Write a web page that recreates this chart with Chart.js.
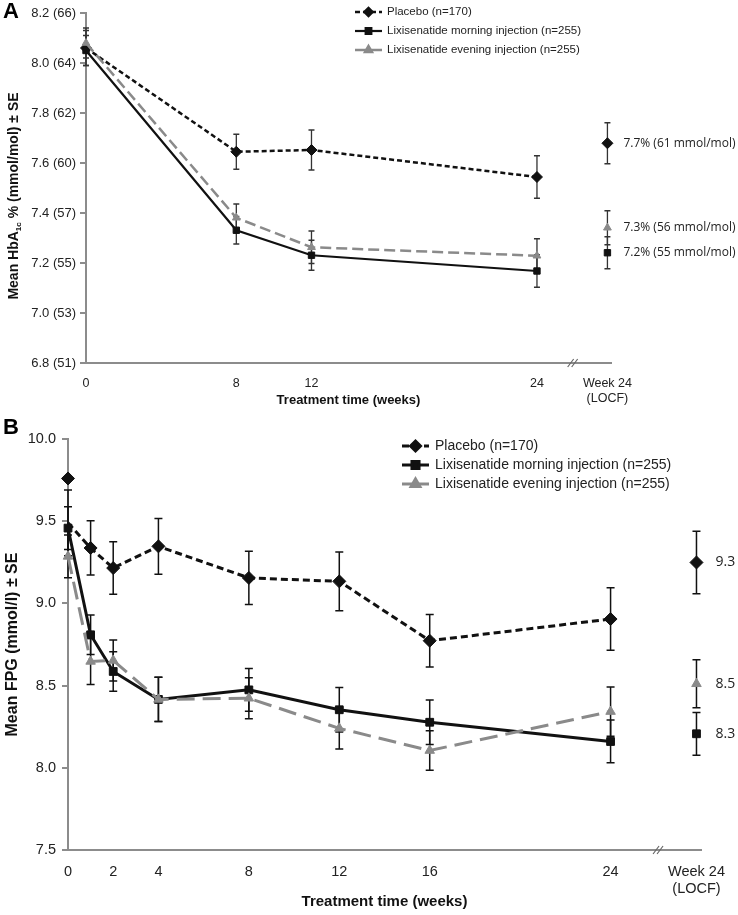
<!DOCTYPE html>
<html>
<head>
<meta charset="utf-8">
<script src="https://cdn.jsdelivr.net/npm/chart.js@4.4.1/dist/chart.umd.min.js"></script>
<style>
  body { margin: 0; background: #fff; width: 738px; height: 915px; overflow: hidden; position: relative; }
  .box { position: absolute; left: 0; width: 738px; }
  #boxA { top: 0; height: 412px; }
  #boxB { top: 412px; height: 503px; }
  .tag { position: absolute; left: 3px; font: bold 22px/22px "Liberation Sans", Arial, sans-serif; color: #000; }
</style>
</head>
<body>
<div class="box" id="boxA"><canvas id="chartA"></canvas></div>
<div class="box" id="boxB"><canvas id="chartB"></canvas></div>
<div class="tag" style="top:0px">A</div>
<div class="tag" style="top:416px">B</div>
<script>
// ---- panel A : HbA1c ----
const weeksA = [0, 8, 12, 24];
const placeboA = [8.06, 7.645, 7.652, 7.544];
const placeboA_se = [0.07, 0.07, 0.08, 0.085];
const morningA = [8.05, 7.331, 7.231, 7.168];
const morningA_se = [0.06, 0.055, 0.06, 0.065];
const eveningA = [8.08, 7.381, 7.263, 7.229];
const eveningA_se = [0.06, 0.055, 0.065, 0.068];
// week 24 LOCF : placebo, morning, evening
const locfA = [7.679, 7.241, 7.341];
const locfA_se = [0.082, 0.064, 0.068];
const locfA_text = ['7.7% (61 mmol/mol)', '7.2% (55 mmol/mol)', '7.3% (56 mmol/mol)'];
const yTicksA = [6.8, 7.0, 7.2, 7.4, 7.6, 7.8, 8.0, 8.2];
const yTickMmolA = ['51', '53', '55', '57', '60', '62', '64', '66'];
const xTicksA = [0, 8, 12, 24];

// ---- panel B : FPG ----
const weeksB = [0, 1, 2, 4, 8, 12, 16, 24];
const placeboB = [9.49, 9.337, 9.215, 9.347, 9.155, 9.134, 8.773, 8.905];
const placeboB_se = [0.2, 0.165, 0.16, 0.17, 0.162, 0.178, 0.16, 0.19];
const placeboB_baseline = 9.76;
const morningB = [9.458, 8.809, 8.586, 8.416, 8.474, 8.353, 8.277, 8.16];
const morningB_se = [0.13, 0.12, 0.12, 0.135, 0.13, 0.135, 0.136, 0.13];
const eveningB = [9.286, 8.647, 8.653, 8.416, 8.423, 8.24, 8.105, 8.342];
const eveningB_se = [0.13, 0.14, 0.125, 0.135, 0.125, 0.125, 0.12, 0.15];
const locfB = [9.249, 8.207, 8.511];
const locfB_se = [0.19, 0.13, 0.146];
const locfB_text = ['9.3', '8.3', '8.5'];
const yTicksB = [7.5, 8.0, 8.5, 9.0, 9.5, 10.0];
const xTicksB = [0, 2, 4, 8, 12, 16, 24];

const groupLabels = ['Placebo (n=170)', 'Lixisenatide morning injection (n=255)', 'Lixisenatide evening injection (n=255)'];
const LOCF_A = 27.75, LOCF_B = 27.8;
const locfTick = ['Week 24', '(LOCF)'];

const sans = '"Liberation Sans", Arial, sans-serif';
const axisGrey = '#8c8c8c';
const evenGrey = '#8a8a8a';

function pts(xs, ys) { return xs.map((x, i) => ({ x: x, y: ys[i] })); }

// error bars from ds.se, drawn under the markers
const errorBars = {
  id: 'errorBars',
  beforeDatasetsDraw(chart, args, o) {
    const ctx = chart.ctx, ys = chart.scales.y;
    chart.data.datasets.forEach((ds, i) => {
      if (!ds.se) return;
      const meta = chart.getDatasetMeta(i);
      meta.data.forEach((p, j) => {
        const se = ds.se[j];
        if (se == null) return;
        const v = ds.data[j].y;
        const t = ys.getPixelForValue(v + se), b = ys.getPixelForValue(v - se);
        ctx.save();
        ctx.strokeStyle = o.color;
        ctx.lineWidth = o.width;
        ctx.beginPath();
        ctx.moveTo(p.x, t); ctx.lineTo(p.x, b);
        ctx.moveTo(p.x - o.cap, t); ctx.lineTo(p.x + o.cap, t);
        ctx.moveTo(p.x - o.cap, b); ctx.lineTo(p.x + o.cap, b);
        ctx.stroke();
        ctx.restore();
      });
    });
  }
};

// legend in the upper right, LOCF value labels, axis break, HbA1c title with subscript
const extras = {
  id: 'extras',
  afterDatasetsDraw(chart, args, o) {
    const ctx = chart.ctx;
    ctx.save();
    chart.data.datasets.forEach((ds, i) => {
      if (ds.keyRow != null) {
        const cy = o.keyY + ds.keyRow * o.keyGap;
        ctx.strokeStyle = ds.borderColor;
        ctx.fillStyle = ds.borderColor;
        ctx.lineWidth = ds.borderWidth;
        ctx.setLineDash(ds.keyDash || []);
        ctx.beginPath();
        ctx.moveTo(o.keyX, cy); ctx.lineTo(o.keyX + o.keyLen, cy);
        ctx.stroke();
        ctx.setLineDash([]);
        Chart.helpers.drawPoint(ctx, { pointStyle: ds.pointStyle, radius: o.keyR, borderWidth: 1, rotation: 0 }, o.keyX + o.keyLen / 2, cy);
        ctx.fillStyle = '#222';
        ctx.font = o.keyFont;
        ctx.textAlign = 'left';
        ctx.textBaseline = 'middle';
        ctx.fillText(ds.label, o.keyX + o.keyLen + o.keyPad, cy);
      }
      if (ds.valueText) {
        const p = chart.getDatasetMeta(i).data[0];
        ctx.fillStyle = '#222';
        ctx.font = o.valFont;
        ctx.textAlign = 'left';
        ctx.textBaseline = 'middle';
        ctx.fillText(ds.valueText, p.x + o.valDx, p.y);
      }
    });
    // axis break marks
    const xb = chart.scales.x.getPixelForValue(o.breakAt);
    const yb = chart.scales.y.bottom;
    ctx.strokeStyle = '#666';
    ctx.lineWidth = 1.2;
    ctx.beginPath();
    [-2, 2].forEach(d => { ctx.moveTo(xb + d - 3, yb + 4); ctx.lineTo(xb + d + 3, yb - 4); });
    ctx.stroke();
    // rotated y title with subscript
    if (o.yTitle) {
      const t = o.yTitle;
      ctx.translate(t.x, t.y);
      ctx.rotate(-Math.PI / 2);
      ctx.fillStyle = '#111';
      ctx.textBaseline = 'alphabetic';
      ctx.textAlign = 'left';
      const big = 'bold ' + t.size + 'px ' + sans, small = 'bold ' + Math.round(t.size * 0.55) + 'px ' + sans;
      const parts = [[t.parts[0], big, 0], [t.parts[1], small, 3], [t.parts[2], big, 0]];
      let w = 0;
      parts.forEach(p => { ctx.font = p[1]; w += ctx.measureText(p[0]).width; });
      let x = -w / 2;
      parts.forEach(p => { ctx.font = p[1]; ctx.fillText(p[0], x, p[2]); x += ctx.measureText(p[0]).width; });
    }
    ctx.restore();
  }
};

function groupSet(label, data, se, kind, big, row) {
  const col = kind === 'even' ? evenGrey : '#111';
  const s = {
    label: label, data: data, se: se, keyRow: row, clip: false,
    borderColor: col, backgroundColor: col, pointBackgroundColor: col, pointBorderColor: col,
    borderWidth: kind === 'morn' ? (big ? 3 : 2.2) : (big ? 3 : 2.5),
    borderDash: kind === 'plac' ? (big ? [7, 4] : [5, 3]) : (kind === 'even' ? (big ? [18, 8] : [11, 5]) : []),
    pointStyle: kind === 'plac' ? 'rectRot' : (kind === 'morn' ? 'rect' : 'triangle'),
    pointRadius: kind === 'plac' ? (big ? 6.5 : 5.5) : (big ? 5.5 : 4.5),
    pointBorderWidth: 1,
    tension: 0, fill: false
  };
  s.keyDash = s.borderDash;
  s.markR = s.pointRadius;
  return s;
}

function locfSet(src, x, y, se, text) {
  return {
    label: '', data: [{ x: x, y: y }], se: [se], valueText: text, showLine: false, clip: false,
    pointStyle: src.pointStyle, pointRadius: src.markR, pointBorderWidth: 1,
    pointBackgroundColor: src.pointBackgroundColor, pointBorderColor: src.pointBorderColor,
    borderColor: src.borderColor, backgroundColor: src.backgroundColor
  };
}

function axisBase(min, max, ticks, fit, tickFont, tickPad) {
  return {
    type: 'linear', min: min, max: max,
    afterBuildTicks: s => { s.ticks = ticks.map(v => ({ value: v })); },
    afterFit: fit,
    border: { color: axisGrey, width: 2 },
    ticks: { autoSkip: false, maxRotation: 0, color: '#222', font: tickFont, padding: tickPad }
  };
}

// ---------- chart A ----------
const pA = groupSet(groupLabels[0], pts(weeksA, placeboA), placeboA_se, 'plac', false, 0);
const mA = groupSet(groupLabels[1], pts(weeksA, morningA), morningA_se, 'morn', false, 1);
const eA = groupSet(groupLabels[2], pts(weeksA, eveningA), eveningA_se, 'even', false, 2);

const xA = axisBase(0, 27.94, xTicksA.concat([LOCF_A]), s => { s.height = 49; }, { family: sans, size: 12.5 }, 5);
xA.grid = { display: false };
xA.ticks.callback = v => v === LOCF_A ? locfTick : String(v);
xA.title = { display: true, text: 'Treatment time (weeks)', color: '#111', font: { family: sans, size: 13, weight: 'bold' }, padding: { top: 2 } };

const yA = axisBase(6.8, 8.2, yTicksA, s => { s.width = 86; }, { family: sans, size: 13 }, 4);
yA.grid = { drawOnChartArea: false, color: axisGrey, lineWidth: 2, tickLength: 6 };
yA.ticks.callback = v => v.toFixed(1) + ' (' + yTickMmolA[yTicksA.indexOf(v)] + ')';

new Chart(document.getElementById('chartA'), {
  type: 'line',
  data: {
    datasets: [eA, mA, pA,
      locfSet(pA, LOCF_A, locfA[0], locfA_se[0], locfA_text[0]),
      locfSet(mA, LOCF_A, locfA[1], locfA_se[1], locfA_text[1]),
      locfSet(eA, LOCF_A, locfA[2], locfA_se[2], locfA_text[2])]
  },
  options: {
    responsive: true, maintainAspectRatio: false, animation: false,
    layout: { padding: { top: 13, right: 127, bottom: 0, left: 0 } },
    scales: { x: xA, y: yA },
    plugins: {
      legend: { display: false }, tooltip: { enabled: false },
      errorBars: { color: '#333', width: 1.3, cap: 3 },
      extras: { keyX: 355, keyY: 12, keyGap: 19, keyLen: 27, keyPad: 5, keyR: 4, keyFont: '11.5px ' + sans,
                valFont: '12px "Open Sans", sans-serif', valDx: 16, breakAt: 25.9,
                yTitle: { x: 18, y: 196, size: 14, parts: ['Mean HbA', '1c', ' % (mmol/mol) ± SE'] } }
    }
  },
  plugins: [errorBars, extras]
});

// ---------- chart B ----------
const pB = groupSet(groupLabels[0], pts(weeksB, placeboB), placeboB_se, 'plac', true, 0);
pB.pointRadius = weeksB.map((w, i) => i === 0 ? 0 : 6.5);
const mB = groupSet(groupLabels[1], pts(weeksB, morningB), morningB_se, 'morn', true, 1);
const eB = groupSet(groupLabels[2], pts(weeksB, eveningB), eveningB_se, 'even', true, 2);
eB.keyDash = [];
const baseB = {
  label: '', data: [{ x: 0, y: placeboB_baseline }], showLine: false, clip: false,
  pointStyle: 'rectRot', pointRadius: 6.5, pointBackgroundColor: '#111', pointBorderColor: '#111', pointBorderWidth: 1
};

const xB = axisBase(0, 28.0, xTicksB.concat([LOCF_B]), s => { s.height = 65; }, { family: sans, size: 14.5 }, 5);
xB.grid = { display: false };
xB.ticks.callback = v => v === LOCF_B ? locfTick : String(v);
xB.title = { display: true, text: 'Treatment time (weeks)', color: '#111', font: { family: sans, size: 15, weight: 'bold' }, padding: { top: 0 } };

const yB = axisBase(7.5, 10.0, yTicksB, s => { s.width = 68; }, { family: sans, size: 14.5 }, 6);
yB.grid = { drawOnChartArea: false, color: axisGrey, lineWidth: 2, tickLength: 6 };
yB.ticks.callback = v => v.toFixed(1);
yB.title = { display: true, text: 'Mean FPG (mmol/l) ± SE', color: '#111', font: { family: sans, size: 16, weight: 'bold' }, padding: { top: 3, bottom: 0 } };

new Chart(document.getElementById('chartB'), {
  type: 'line',
  data: {
    datasets: [eB, mB, pB, baseB,
      locfSet(pB, LOCF_B, locfB[0], locfB_se[0], locfB_text[0]),
      locfSet(mB, LOCF_B, locfB[1], locfB_se[1], locfB_text[1]),
      locfSet(eB, LOCF_B, locfB[2], locfB_se[2], locfB_text[2])]
  },
  options: {
    responsive: true, maintainAspectRatio: false, animation: false,
    layout: { padding: { top: 27, right: 37, bottom: 0, left: 0 } },
    scales: { x: xB, y: yB },
    plugins: {
      legend: { display: false }, tooltip: { enabled: false },
      errorBars: { color: '#111', width: 1.5, cap: 4 },
      extras: { keyX: 402, keyY: 34, keyGap: 19, keyLen: 27, keyPad: 6, keyR: 5, keyFont: '14px ' + sans,
                valFont: '14px "Open Sans", sans-serif', valDx: 19, breakAt: 26.1 }
    }
  },
  plugins: [errorBars, extras]
});
</script>
</body>
</html>
